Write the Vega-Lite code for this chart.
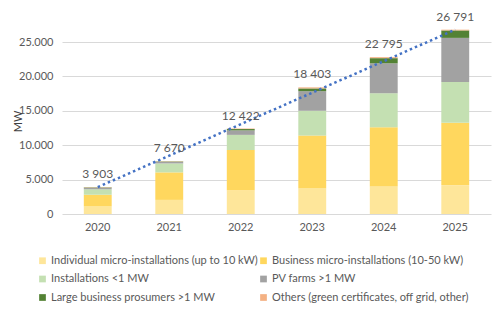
{
  "$schema": "https://vega.github.io/schema/vega-lite/v6.json",
  "width": 429,
  "height": 172,
  "autosize": {"type": "none"},
  "padding": {"left": 62, "top": 42, "right": 9, "bottom": 109},
  "background": "white",
  "config": {
    "font": "Lato",
    "view": {"stroke": null},
    "axis": {"labelColor": "#595959", "labelFontSize": 11, "titleColor": "#404040"}
  },
  "datasets": {
    "segments": [
      {"year": "2020", "category": "Individual micro-installations (up to 10 kW)", "value": 1100},
      {"year": "2020", "category": "Business micro-installations (10-50 kW)", "value": 1700},
      {"year": "2020", "category": "Installations <1 MW", "value": 800},
      {"year": "2020", "category": "PV farms >1 MW", "value": 200},
      {"year": "2020", "category": "Large business prosumers >1 MW", "value": 60},
      {"year": "2020", "category": "Others (green certificates, off grid, other)", "value": 43},
      {"year": "2021", "category": "Individual micro-installations (up to 10 kW)", "value": 2050},
      {"year": "2021", "category": "Business micro-installations (10-50 kW)", "value": 4000},
      {"year": "2021", "category": "Installations <1 MW", "value": 1300},
      {"year": "2021", "category": "PV farms >1 MW", "value": 220},
      {"year": "2021", "category": "Large business prosumers >1 MW", "value": 60},
      {"year": "2021", "category": "Others (green certificates, off grid, other)", "value": 40},
      {"year": "2022", "category": "Individual micro-installations (up to 10 kW)", "value": 3400},
      {"year": "2022", "category": "Business micro-installations (10-50 kW)", "value": 5900},
      {"year": "2022", "category": "Installations <1 MW", "value": 2200},
      {"year": "2022", "category": "PV farms >1 MW", "value": 650},
      {"year": "2022", "category": "Large business prosumers >1 MW", "value": 200},
      {"year": "2022", "category": "Others (green certificates, off grid, other)", "value": 72},
      {"year": "2023", "category": "Individual micro-installations (up to 10 kW)", "value": 3750},
      {"year": "2023", "category": "Business micro-installations (10-50 kW)", "value": 7650},
      {"year": "2023", "category": "Installations <1 MW", "value": 3600},
      {"year": "2023", "category": "PV farms >1 MW", "value": 2850},
      {"year": "2023", "category": "Large business prosumers >1 MW", "value": 400},
      {"year": "2023", "category": "Others (green certificates, off grid, other)", "value": 153},
      {"year": "2024", "category": "Individual micro-installations (up to 10 kW)", "value": 4050},
      {"year": "2024", "category": "Business micro-installations (10-50 kW)", "value": 8550},
      {"year": "2024", "category": "Installations <1 MW", "value": 4950},
      {"year": "2024", "category": "PV farms >1 MW", "value": 4350},
      {"year": "2024", "category": "Large business prosumers >1 MW", "value": 750},
      {"year": "2024", "category": "Others (green certificates, off grid, other)", "value": 145},
      {"year": "2025", "category": "Individual micro-installations (up to 10 kW)", "value": 4200},
      {"year": "2025", "category": "Business micro-installations (10-50 kW)", "value": 9050},
      {"year": "2025", "category": "Installations <1 MW", "value": 5950},
      {"year": "2025", "category": "PV farms >1 MW", "value": 6400},
      {"year": "2025", "category": "Large business prosumers >1 MW", "value": 1080},
      {"year": "2025", "category": "Others (green certificates, off grid, other)", "value": 111}
    ],
    "trend": [
      {"year": "2020", "value": 3903},
      {"year": "2025", "value": 26791}
    ]
  },
  "layer": [
    {
      "data": {"name": "segments"},
      "transform": [
        {"calculate": "indexof(['Individual micro-installations (up to 10 kW)', 'Business micro-installations (10-50 kW)', 'Installations <1 MW', 'PV farms >1 MW', 'Large business prosumers >1 MW', 'Others (green certificates, off grid, other)'], datum.category)", "as": "stackOrder"}
      ],
      "mark": {"type": "bar"},
      "encoding": {
        "x": {
          "field": "year", "type": "ordinal",
          "scale": {"domain": ["2020", "2021", "2022", "2023", "2024", "2025"], "paddingInner": 0.61, "paddingOuter": 0.305},
          "axis": {"title": null, "labelAngle": 0, "domain": false, "ticks": false, "labelPadding": 7, "grid": false}
        },
        "y": {
          "field": "value", "type": "quantitative", "stack": "zero",
          "scale": {"domain": [0, 25000], "nice": false},
          "axis": {
            "title": "MW", "values": [0, 5000, 10000, 15000, 20000, 25000],
            "labelExpr": "replace(format(datum.value, ','), ',', '.')",
            "labelOverlap": false,
            "domain": false, "ticks": false, "labelPadding": 9,
            "gridColor": "#d9d9d9", "titleFontSize": 11, "titleFontWeight": "normal",
            "titleX": -39, "titleY": 79, "titleBaseline": "bottom", "titleAlign": "center"
          }
        },
        "order": {"field": "stackOrder", "type": "quantitative", "sort": "ascending"},
        "color": {
          "field": "category", "type": "nominal",
          "scale": {
            "domain": [
              "Individual micro-installations (up to 10 kW)",
              "Installations <1 MW",
              "Large business prosumers >1 MW",
              "Business micro-installations (10-50 kW)",
              "PV farms >1 MW",
              "Others (green certificates, off grid, other)"
            ],
            "range": ["#fee69a", "#c4e0b2", "#538234", "#ffd75e", "#a2a2a2", "#f4b183"]
          },
          "legend": {
            "title": null, "orient": "none", "legendX": -25, "legendY": 213,
            "columns": 2, "symbolType": "square", "symbolSize": 45,
            "labelFontSize": 11, "labelColor": "#595959", "labelOffset": 3,
            "rowPadding": 6.5, "columnPadding": 0, "labelLimit": 300,
            "symbolStrokeWidth": 0
          }
        }
      }
    },
    {
      "data": {"name": "trend"},
      "mark": {"type": "line", "color": "#4472c4", "strokeWidth": 2.5, "strokeDash": [2.5, 3]},
      "encoding": {
        "x": {"field": "year", "type": "ordinal"},
        "y": {
          "field": "value", "type": "quantitative",
          "axis": {
            "title": "MW", "values": [0, 5000, 10000, 15000, 20000, 25000],
            "labelExpr": "replace(format(datum.value, ','), ',', '.')",
            "labelOverlap": false,
            "domain": false, "ticks": false, "labelPadding": 9,
            "gridColor": "#d9d9d9", "titleFontSize": 11, "titleFontWeight": "normal",
            "titleX": -39, "titleY": 79, "titleBaseline": "bottom", "titleAlign": "center"
          }
        }
      }
    },
    {
      "data": {"name": "segments"},
      "transform": [
        {"aggregate": [{"op": "sum", "field": "value", "as": "total"}], "groupby": ["year"]},
        {"calculate": "replace(format(datum.total, ','), ',', ' ')", "as": "label"}
      ],
      "mark": {"type": "text", "dy": -13, "fontSize": 12, "color": "#595959", "baseline": "middle"},
      "encoding": {
        "x": {"field": "year", "type": "ordinal"},
        "y": {
          "field": "total", "type": "quantitative",
          "axis": {
            "title": "MW", "values": [0, 5000, 10000, 15000, 20000, 25000],
            "labelExpr": "replace(format(datum.value, ','), ',', '.')",
            "labelOverlap": false,
            "domain": false, "ticks": false, "labelPadding": 9,
            "gridColor": "#d9d9d9", "titleFontSize": 11, "titleFontWeight": "normal",
            "titleX": -39, "titleY": 79, "titleBaseline": "bottom", "titleAlign": "center"
          }
        },
        "text": {"field": "label"}
      }
    }
  ]
}
